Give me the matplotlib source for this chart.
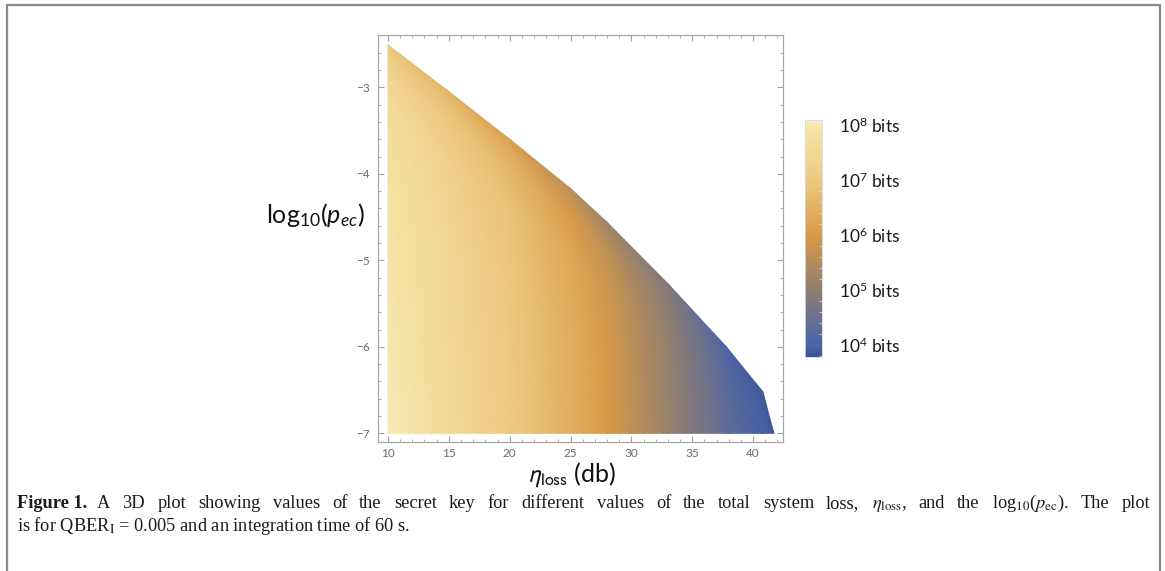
import numpy as np
import matplotlib.pyplot as plt
from matplotlib import rc
from matplotlib.colors import LinearSegmentedColormap, Normalize
from matplotlib.patches import Rectangle
from matplotlib.ticker import MultipleLocator

rc('font', **{'family': 'sans-serif', 'sans-serif': ['Lato', 'DejaVu Sans'], 'size': 12})
rc('mathtext', **{'fontset': 'custom', 'rm': 'Lato', 'it': 'Lato:italic', 'bf': 'Lato:bold'})

# total system loss (db) at each column of the surface
loss_db = [10, 15, 20, 25, 28, 33, 37.8, 40.8, 41.7]
# upper edge of the region with a positive key, log10(p_ec)
pec_edge = [-2.51, -3.05, -3.60, -4.17, -4.56, -5.27, -6.00, -6.52, -7.00]
pec_floor = -7.0
# depth below the upper edge for each row of samples
edge_depth = [0.0, 0.12, 0.35, 0.8, 1.8, 4.5]
# log10 of the secret key length in bits, one row per depth
log_key = [
    [6.95, 6.50, 6.10, 5.55, 5.20, 4.80, 4.00, 3.85, 3.80],
    [7.15, 6.75, 6.35, 5.80, 5.40, 4.90, 4.10, 3.90, 3.80],
    [7.40, 7.00, 6.60, 6.05, 5.65, 5.00, 4.20, 3.95, 3.85],
    [7.65, 7.25, 6.85, 6.30, 5.90, 5.10, 4.30, 3.95, 3.85],
    [7.85, 7.45, 7.00, 6.42, 6.00, 5.15, 4.30, 3.95, 3.85],
    [8.05, 7.55, 7.05, 6.45, 6.00, 5.15, 4.30, 3.95, 3.85],
]

# colour scale (log10 bits) and its labels
key_min, key_max = 3.78, 8.09
cmap_levels = [3.78, 4.0, 5.0, 6.0, 7.0, 8.0, 8.09]
cmap_colors = ['#3a5391', '#4b65a8', '#8e7e72', '#d89a48', '#edc97f', '#f7e7aa', '#f9eebc']
cbar_ticks = [4, 5, 6, 7, 8]
cbar_labels = ['10$^{4}$ bits', '10$^{5}$ bits', '10$^{6}$ bits', '10$^{7}$ bits', '10$^{8}$ bits']

caption_1 = [r'A', r'3D', r'plot', r'showing', r'values', r'of', r'the', r'secret', r'key', r'for',
             r'different', r'values', r'of', r'the', r'total', r'system', r'loss,',
             r'$\eta_{\mathrm{loss}}$,', r'and', r'the', r'log$_{10}$($p_{\mathrm{ec}}$).',
             r'The', r'plot']
caption_2 = r'is for QBER$_{\mathrm{I}}$ = 0.005 and an integration time of 60 s.'

pos = [(v - key_min) / (key_max - key_min) for v in cmap_levels]
key_cmap = LinearSegmentedColormap.from_list('key', list(zip(pos, cmap_colors)))
norm = Normalize(vmin=key_min, vmax=key_max)

W, H = 1165, 571
fig = plt.figure(figsize=(W / 100, H / 100), dpi=100)
ax = fig.add_axes([378 / W, 1 - 442 / H, 405 / W, 407 / H])

X = np.tile(np.array(loss_db), (len(edge_depth), 1))
Y = np.maximum(np.array(pec_edge)[None, :] - np.array(edge_depth)[:, None], pec_floor)
mesh = ax.pcolormesh(X, Y, np.array(log_key), cmap=key_cmap, norm=norm,
                     shading='gouraud', antialiased=True)

ax.set_xlim(9.18, 42.46)
ax.set_ylim(-7.10, -2.395)
ax.xaxis.set_major_locator(MultipleLocator(5))
ax.xaxis.set_minor_locator(MultipleLocator(1))
ax.yaxis.set_major_locator(MultipleLocator(1))
ax.yaxis.set_minor_locator(MultipleLocator(0.2))
ax.tick_params(which='both', direction='in', top=True, right=True,
               color='#a0a0a0', labelcolor='#6a6a6a', labelsize=8.5)
ax.tick_params(axis='x', pad=4)
ax.tick_params(axis='y', pad=6)
ax.tick_params(which='major', length=4.5, width=0.8)
ax.tick_params(which='minor', length=2.2, width=0.6)
for sp in ax.spines.values():
    sp.set_color('#a8a8a8')
    sp.set_linewidth(0.9)

ax.set_xlabel(r'$\eta_{\mathrm{loss}}$ (db)', fontsize=18, math_fontfamily='stixsans',
              color='#111111', va='center')
ax.xaxis.set_label_coords(0.479, -0.081)
ax.set_ylabel(r'log$_{10}$($p_{ec}$)', rotation=0, fontsize=18, color='#111111',
              ha='right', va='center')
ax.yaxis.set_label_coords(-0.032, 0.558)

# colour bar
cax = fig.add_axes([805 / W, 1 - 357 / H, 17 / W, 237 / H])
cb = fig.colorbar(mesh, cax=cax)
cb.set_ticks(cbar_ticks)
cb.set_ticklabels(cbar_labels)
cb.outline.set_edgecolor('#d8d8d8')
cb.outline.set_linewidth(0.6)
cax.yaxis.set_minor_locator(MultipleLocator(0.2))
cax.tick_params(which='major', length=0, pad=12, labelsize=12.5, labelcolor='#1a1a1a')
cax.tick_params(which='minor', length=2, width=0.5, color='#e2e2e2', direction='in')

# caption below the plot, first line set justified
cap_font = {'family': 'Liberation Serif', 'fontsize': 13.2, 'color': '#1a1a1a',
            'math_fontfamily': 'stix'}
renderer = fig.canvas.get_renderer()
x_left, x_right = 17, 1150
y1, y2 = 1 - 508 / H, 1 - 531 / H
head = fig.text(x_left / W, y1, 'Figure 1.', fontweight='bold', va='baseline', **cap_font)
words = [fig.text(0, y1, w, va='baseline', **cap_font) for w in caption_1]
head_w = head.get_window_extent(renderer).width
widths = [t.get_window_extent(renderer).width for t in words]
head_gap = 10
gap = (x_right - x_left - head_w - head_gap - sum(widths)) / (len(words) - 1)
x = x_left + head_w + head_gap
for t, w in zip(words, widths):
    t.set_x(x / W)
    x += w + gap
fig.text(x_left / W, y2, caption_2, va='baseline', **cap_font)

# outer frame of the figure panel
fig.patches.append(Rectangle((7 / W, -0.05), 1153 / W, 1.05 - 5 / H, transform=fig.transFigure,
                             fill=False, edgecolor='#8a8a8a', linewidth=1.6))

plt.savefig('out.png', dpi=100)
